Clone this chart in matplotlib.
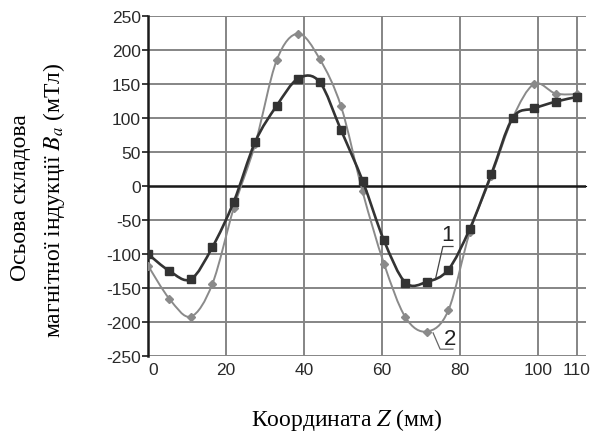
import numpy as np
import matplotlib
matplotlib.use("Agg")
import matplotlib.pyplot as plt
from matplotlib.path import Path
from matplotlib.patches import PathPatch

plt.rcParams['font.family'] = ['Liberation Sans', 'DejaVu Sans']
plt.rcParams['mathtext.fontset'] = 'stix'

# coordinate along the axis, mm
z = [0, 5.5, 11, 16.5, 22, 27.5, 33, 38.5, 44, 49.5, 55,
     60.5, 66, 71.5, 77, 82.5, 88, 93.5, 99, 104.5, 110]
# curve 1 (black squares), mT
b1 = [-100, -125, -137, -90, -23, 65, 118, 158, 153, 82, 8,
      -80, -142, -141, -123, -63, 17, 100, 114, 124, 131]
# curve 2 (grey diamonds), mT
b2 = [-117, -166, -192, -144, -32, 62, 185, 224, 187, 117, -8,
      -114, -193, -214, -183, -68, 14, 100, 150, 136, 135]

xticks = [0, 20, 40, 60, 80, 100, 110]
yticks = [-250, -200, -150, -100, -50, 0, 50, 100, 150, 200, 250]

# label "1" / "2" leaders (data coords)
lead1 = [(73.8, -134.5), (75.6, -89), (78.2, -89)]
txt1 = (76.9, -72)
lead2 = [(73.1, -216), (74.9, -240), (78.2, -240)]
txt2 = (77.4, -224)


def smooth_path(x, y):
    # excel-like smoothed line: cubic bezier segments, catmull-rom tangents
    x = np.asarray(x, float)
    y = np.asarray(y, float)
    pts = np.column_stack([x, y])
    verts = [pts[0]]
    codes = [Path.MOVETO]
    n = len(pts)
    for i in range(n - 1):
        p0 = pts[i - 1] if i > 0 else pts[i]
        p1 = pts[i]
        p2 = pts[i + 1]
        p3 = pts[i + 2] if i + 2 < n else pts[i + 1]
        c1 = p1 + (p2 - p0) / 6.0
        c2 = p2 - (p3 - p1) / 6.0
        verts += [c1, c2, p2]
        codes += [Path.CURVE4] * 3
    return Path(verts, codes)


fig = plt.figure(figsize=(5.92, 4.39), dpi=100)
ax = fig.add_axes([148 / 592, 1 - 357 / 439, 438 / 592, 340 / 439])
ax.set_xlim(0, 112.3)
ax.set_ylim(-250, 250)

for xv in xticks[1:]:
    ax.axvline(xv, color='#858585', lw=1.4, zorder=1)
for yv in yticks:
    if yv != 0:
        ax.axhline(yv, color='#858585', lw=1.4, zorder=1)
ax.axhline(0, color='#1a1a1a', lw=1.8, zorder=2)

grey = '#8a8a8a'
dark = '#333333'
ax.add_patch(PathPatch(smooth_path(z, b2), fill=False, ec=grey, lw=1.4, zorder=3))
ax.plot(z, b2, ls='none', marker='D', ms=4, color=grey, zorder=4)
ax.add_patch(PathPatch(smooth_path(z, b1), fill=False, ec=dark, lw=1.9, zorder=5))
ax.plot(z, b1, ls='none', marker='s', ms=6, color=dark, zorder=6)

# leaders
lx, ly = zip(*lead1)
ax.plot(lx, ly, color='#444444', lw=0.9, zorder=7)
lx, ly = zip(*lead2)
ax.plot(lx, ly, color='#666666', lw=0.9, zorder=7)
ax.text(*txt1, '1', fontsize=16, color='#222222', ha='center', va='center', zorder=8)
ax.text(*txt2, '2', fontsize=16, color='#222222', ha='center', va='center', zorder=8)

for s in ['top', 'right', 'bottom']:
    ax.spines[s].set_visible(False)
ax.spines['left'].set_color('#1a1a1a')
ax.spines['left'].set_linewidth(1.8)

ax.set_xticks(xticks)
ax.set_yticks(yticks)
ax.set_xticklabels([str(v) for v in xticks])
ax.set_yticklabels([str(v) for v in yticks])
ax.tick_params(axis='x', length=0, pad=4, labelsize=12.5, labelcolor='#2a2a2a')
ax.tick_params(axis='y', length=4, width=1.2, color='#1a1a1a', pad=1,
               labelsize=12.5, labelcolor='#2a2a2a')
ax.get_xticklabels()[0].set_horizontalalignment('left')

# little tick marks on the zero line
sec = ax.secondary_xaxis(0.5)
sec.set_xticks(xticks[1:])
sec.set_xticklabels([])
sec.tick_params(length=4, width=1.2, color='#1a1a1a', direction='inout')
sec.spines['bottom'].set_visible(False)

fig.text(21 / 592, 1 - 198 / 439, 'Осьова складова', rotation=90,
         ha='center', va='center', fontsize=17, family='Liberation Serif')
fig.text(54 / 592, 1 - 200 / 439, 'магнітної індукції $B_a$ (мТл)', rotation=90,
         ha='center', va='center', fontsize=17, family='Liberation Serif')
fig.text(347 / 592, 1 - 420 / 439, 'Координата $Z$ (мм)',
         ha='center', va='center', fontsize=17, family='Liberation Serif')

fig.savefig('out.png', dpi=100)
